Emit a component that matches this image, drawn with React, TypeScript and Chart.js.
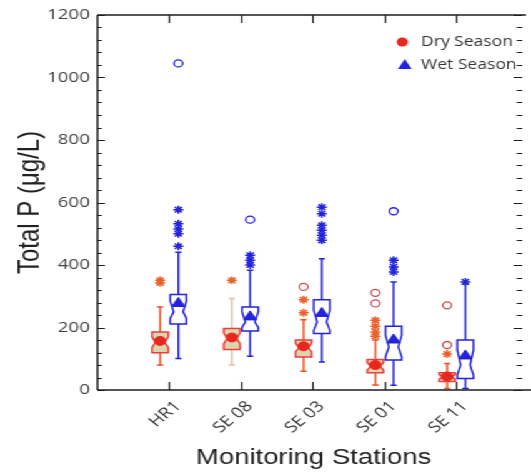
import React, { useEffect, useRef } from 'react';
import { Chart, registerables } from 'chart.js';

Chart.register(...registerables);

// ---- data ----
const stations = ['HR1', 'SE 08', 'SE 03', 'SE 01', 'SE 11'];
const yTickValues = [0, 200, 400, 600, 800, 1000, 1200];

const dryMin = [80, 80, 60, 16, 5];
const dryQ1 = [119, 130, 106, 55, 27];
const dryMedian = [152, 165, 135, 75, 42];
const dryQ3 = [186, 197, 160, 98, 55];
const dryMax = [266, 293, 225, 160, 85];
const dryMean = [157, 168, 140, 80, 43];
const dryNotchLow = [136, 148, 122, 64, 34];
const dryNotchHigh = [170, 182, 150, 88, 50];

const wetMin = [101, 108, 90, 15, 5];
const wetQ1 = [211, 189, 181, 96, 37];
const wetMedian = [250, 218, 218, 138, 80];
const wetQ3 = [306, 266, 289, 204, 160];
const wetMax = [441, 383, 420, 346, 340];
const wetMean = [277, 234, 245, 160, 109];
const wetNotchLow = [229, 200, 190, 106, 48];
const wetNotchHigh = [284, 250, 255, 175, 128];

// outliers: [station index, value]
const dryStarOutliers: [number, number][] = [
  [0, 351], [0, 343], [1, 351], [2, 289], [2, 247],
  [3, 223], [3, 204], [3, 186], [3, 172], [4, 115],
];
const dryCircleOutliers: [number, number][] = [
  [2, 330], [3, 311], [3, 277], [4, 271], [4, 144],
];
const wetStarOutliers: [number, number][] = [
  [0, 577], [0, 532], [0, 515], [0, 500], [0, 460],
  [1, 431], [1, 415], [1, 400],
  [2, 585], [2, 564], [2, 527], [2, 511], [2, 495], [2, 479],
  [3, 415], [3, 394], [3, 378], [4, 346],
];
const wetCircleOutliers: [number, number][] = [[0, 1045], [1, 545], [3, 572]];

// ---- style ----
const DRY_OFFSET = -0.127;
const WET_OFFSET = 0.127;
const BOX_W = 0.226;
const DRY_LINE = '#f03c3c';
const DRY_FILL = 'rgba(214,206,160,0.85)';
const DRY_WHISKER = '#f0501e';
const DRY_MEAN = '#e8281e';
const DRY_STAR = '#e8602a';
const DRY_CIRCLE = '#c85050';
const WET = '#2323dc';
const AXIS = '#1e1e1e';
const TEXT = '#333333';
const STRETCH = 531 / 425;

type Box = { min: number; q1: number; med: number; q3: number; max: number; nlo: number; nhi: number };

function drawBox(ctx: CanvasRenderingContext2D, xs: any, ys: any, cx: number, b: Box, line: string, fill: string, whisker: string) {
  const c = xs.getPixelForValue(cx);
  const half = (xs.getPixelForValue(cx + BOX_W / 2) - xs.getPixelForValue(cx - BOX_W / 2)) / 2;
  const ind = half * 0.42;
  const Y = (v: number) => ys.getPixelForValue(v);
  ctx.save();
  ctx.lineWidth = 1.5;
  ctx.strokeStyle = whisker;
  ctx.beginPath();
  ctx.moveTo(c, Y(b.q3)); ctx.lineTo(c, Y(b.max));
  ctx.moveTo(c - 2.5, Y(b.max)); ctx.lineTo(c + 2.5, Y(b.max));
  ctx.moveTo(c, Y(b.q1)); ctx.lineTo(c, Y(b.min));
  ctx.moveTo(c - 2.5, Y(b.min)); ctx.lineTo(c + 2.5, Y(b.min));
  ctx.stroke();
  ctx.beginPath();
  ctx.moveTo(c - half, Y(b.q3));
  ctx.lineTo(c + half, Y(b.q3));
  ctx.lineTo(c + half, Y(b.nhi));
  ctx.lineTo(c + half - ind, Y(b.med));
  ctx.lineTo(c + half, Y(b.nlo));
  ctx.lineTo(c + half, Y(b.q1));
  ctx.lineTo(c - half, Y(b.q1));
  ctx.lineTo(c - half, Y(b.nlo));
  ctx.lineTo(c - half + ind, Y(b.med));
  ctx.lineTo(c - half, Y(b.nhi));
  ctx.closePath();
  ctx.fillStyle = fill;
  ctx.fill();
  ctx.strokeStyle = line;
  ctx.stroke();
  ctx.restore();
}

const boxPlugin = {
  id: 'boxes',
  beforeDatasetsDraw(chart: any) {
    const { ctx, scales } = chart;
    const xs = scales.x, ys = scales.y;
    stations.forEach((_, i) => {
      drawBox(ctx, xs, ys, i + 1 + DRY_OFFSET,
        { min: dryMin[i], q1: dryQ1[i], med: dryMedian[i], q3: dryQ3[i], max: dryMax[i], nlo: dryNotchLow[i], nhi: dryNotchHigh[i] },
        DRY_LINE, DRY_FILL, i === 1 ? 'rgba(230,160,120,0.7)' : DRY_WHISKER);
      drawBox(ctx, xs, ys, i + 1 + WET_OFFSET,
        { min: wetMin[i], q1: wetQ1[i], med: wetMedian[i], q3: wetQ3[i], max: wetMax[i], nlo: wetNotchLow[i], nhi: wetNotchHigh[i] },
        WET, '#ffffff', WET);
    });
  },
  afterDraw(chart: any) {
    const { ctx, scales, chartArea } = chart;
    const xs = scales.x, ys = scales.y;
    const { left, right, top, bottom } = chartArea;
    const W = chart.width;
    ctx.save();
    // frame
    ctx.strokeStyle = AXIS;
    ctx.lineWidth = 1.5;
    ctx.beginPath();
    ctx.moveTo(left, top); ctx.lineTo(left, bottom);
    ctx.moveTo(left, bottom); ctx.lineTo(W, bottom);
    ctx.moveTo(left, top); ctx.lineTo(421, top);
    ctx.stroke();
    // y ticks (inward, both sides)
    ctx.lineWidth = 1.2;
    ctx.beginPath();
    for (let v = 0; v <= 1200; v += 40) {
      const py = Math.round(ys.getPixelForValue(v)) + 0.5;
      const len = v % 200 === 0 ? 6 : 3.5;
      ctx.moveTo(left, py); ctx.lineTo(left + len, py);
      ctx.moveTo(right, py); ctx.lineTo(right - len - 1, py);
    }
    // x ticks (inward, top & bottom)
    stations.forEach((_, i) => {
      const px = Math.round(xs.getPixelForValue(i + 1)) + 0.5;
      ctx.moveTo(px, bottom); ctx.lineTo(px, bottom - 8);
      ctx.moveTo(px, top); ctx.lineTo(px, top + 8);
    });
    ctx.stroke();
    // x tick labels
    ctx.fillStyle = TEXT;
    ctx.font = '15px "Open Sans", "Liberation Sans", sans-serif';
    ctx.textAlign = 'right';
    ctx.textBaseline = 'middle';
    stations.forEach((s, i) => {
      const px = xs.getPixelForValue(i + 1);
      ctx.save();
      ctx.translate(px + 7, bottom + 14);
      ctx.rotate(-Math.PI / 4);
      ctx.fillText(s, 0, 0);
      ctx.restore();
    });
    // axis titles
    ctx.fillStyle = '#222222';
    ctx.textAlign = 'center';
    ctx.font = '22px "Liberation Sans", Arial, sans-serif';
    ctx.fillText('Monitoring Stations', (left + right) / 2 + 3, 458);
    ctx.save();
    ctx.translate(24, (top + bottom) / 2);
    ctx.rotate(-Math.PI / 2);
    ctx.font = '24px "Liberation Sans", Arial, sans-serif';
    ctx.fillText('Total P (\u03bcg/L)', 0, 0);
    ctx.restore();
    // legend
    ctx.fillStyle = DRY_MEAN;
    ctx.beginPath();
    ctx.arc(322, 42, 4.5, 0, Math.PI * 2);
    ctx.fill();
    ctx.fillStyle = WET;
    ctx.beginPath();
    ctx.moveTo(324, 59); ctx.lineTo(329.5, 69); ctx.lineTo(318.5, 69);
    ctx.closePath();
    ctx.fill();
    ctx.fillStyle = TEXT;
    ctx.textAlign = 'left';
    ctx.font = '14px "Open Sans", "Liberation Sans", sans-serif';
    ctx.fillText('Dry Season', 337, 42);
    ctx.fillText('Wet Season', 337, 65);
    ctx.restore();
  },
};

function pts(list: [number, number][], off: number) {
  return list.map(([i, v]) => ({ x: i + 1 + off, y: v }));
}

export default function App() {
  const ref = useRef<HTMLCanvasElement | null>(null);
  useEffect(() => {
    if (!ref.current) return;
    const chart = new Chart(ref.current, {
      type: 'scatter',
      data: {
        datasets: [
          { label: 'Dry Season', data: dryMean.map((v, i) => ({ x: i + 1 + DRY_OFFSET, y: v })), pointStyle: 'circle', pointRadius: 4.5, backgroundColor: DRY_MEAN, borderColor: DRY_MEAN, borderWidth: 1 },
          { label: 'Wet Season', data: wetMean.map((v, i) => ({ x: i + 1 + WET_OFFSET, y: v })), pointStyle: 'triangle', pointRadius: 6, backgroundColor: WET, borderColor: WET, borderWidth: 1 },
          { label: 'dry stars', data: pts(dryStarOutliers, DRY_OFFSET), pointStyle: 'star', pointRadius: 4, borderColor: DRY_STAR, backgroundColor: DRY_STAR, borderWidth: 1.5 },
          { label: 'dry circles', data: pts(dryCircleOutliers, DRY_OFFSET), pointStyle: 'circle', pointRadius: 3.5, borderColor: DRY_CIRCLE, backgroundColor: 'rgba(0,0,0,0)', borderWidth: 1.3 },
          { label: 'wet stars', data: pts(wetStarOutliers, WET_OFFSET), pointStyle: 'star', pointRadius: 4, borderColor: WET, backgroundColor: WET, borderWidth: 1.5 },
          { label: 'wet circles', data: pts(wetCircleOutliers, WET_OFFSET), pointStyle: 'circle', pointRadius: 3.5, borderColor: WET, backgroundColor: 'rgba(0,0,0,0)', borderWidth: 1.3 },
        ],
      },
      options: {
        animation: false,
        responsive: false,
        maintainAspectRatio: false,
        devicePixelRatio: 1,
        layout: { padding: { top: 15, right: 0, left: 0, bottom: 0 } },
        plugins: { legend: { display: false }, tooltip: { enabled: false }, title: { display: false } },
        scales: {
          x: {
            type: 'linear', min: 0, max: 5.92,
            ticks: { display: false },
            grid: { display: false, drawTicks: false },
            border: { display: false },
            afterFit: (s: any) => { s.height = 83; },
          },
          y: {
            type: 'linear', min: 0, max: 1200,
            afterBuildTicks: (s: any) => { s.ticks = yTickValues.map((v) => ({ value: v })); },
            ticks: {
              color: '#444444', padding: 6,
              font: { family: '"Open Sans", "Liberation Sans", sans-serif', size: 15 },
              callback: (v: any) => String(v),
            },
            grid: { display: false, drawTicks: false },
            border: { display: false },
            afterFit: (s: any) => { s.width = 78; },
          },
        },
      },
      plugins: [boxPlugin],
    } as any);
    return () => chart.destroy();
  }, []);
  return (
    <div style={{ position: 'absolute', left: 0, top: 0, width: 425, height: 473, transform: `scaleX(${STRETCH})`, transformOrigin: '0 0', background: '#ffffff' }}>
      <canvas ref={ref} width={425} height={473} />
    </div>
  );
}
